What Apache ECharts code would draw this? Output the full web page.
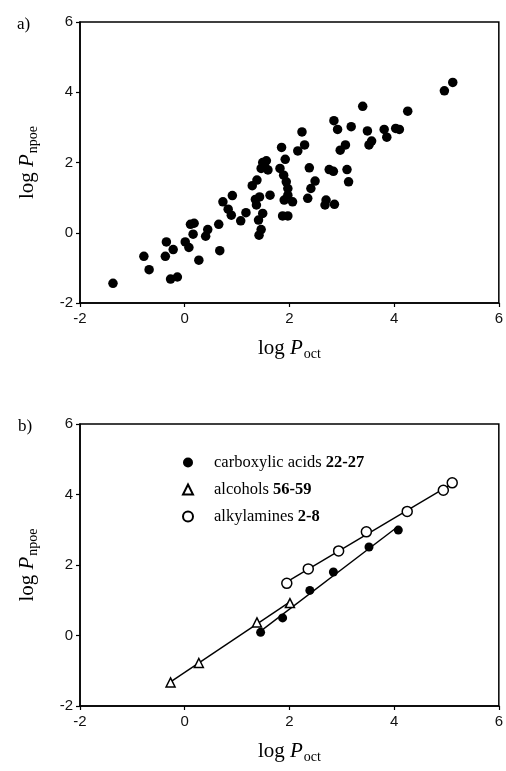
<!DOCTYPE html>
<html>
<head>
<meta charset="utf-8">
<script src="https://cdn.jsdelivr.net/npm/echarts@6/dist/echarts.min.js"></script>
<style>
html,body{margin:0;padding:0;background:#fff;}
#chart{width:506px;height:771px;}
</style>
</head>
<body>
<div id="chart"></div>
<script>
// ---- data ----
// Panel a): log P_oct vs log P_npoe, all compounds
const allLogPoct = [-1.37,-0.78,-0.68,-0.35,-0.37,-0.22,-0.27,-0.14,0.01,0.08,0.11,0.18,0.16,0.27,0.40,0.44,0.65,0.67,0.73,0.91,0.83,0.89,1.07,1.17,1.29,1.38,1.35,1.43,1.37,1.49,1.41,1.46,1.42,1.49,1.56,1.46,1.59,1.53,1.63,1.85,1.92,1.82,1.89,1.94,1.97,1.97,1.90,2.06,1.87,1.97,2.24,2.16,2.29,2.38,2.35,2.49,2.41,2.70,2.68,2.86,2.76,2.84,3.10,3.13,3.07,2.97,2.85,2.92,3.18,3.40,3.49,3.57,3.52,3.81,3.86,4.03,4.10,4.26,4.96,5.12];
const allLogPnpoe = [-1.44,-0.67,-1.05,-0.26,-0.67,-0.48,-1.32,-1.26,-0.26,-0.42,0.24,0.27,-0.04,-0.78,-0.10,0.09,0.24,-0.51,0.88,1.06,0.67,0.50,0.34,0.57,1.34,1.50,0.95,1.02,0.79,0.55,0.36,0.09,-0.07,2.00,2.05,1.83,1.79,1.88,1.07,2.43,2.09,1.83,1.64,1.45,1.26,1.07,0.93,0.88,0.48,0.48,2.87,2.33,2.50,1.85,0.98,1.47,1.26,0.93,0.79,0.81,1.80,1.75,1.80,1.45,2.50,2.35,3.19,2.94,3.02,3.60,2.90,2.61,2.50,2.94,2.72,2.97,2.94,3.46,4.04,4.28];

// Panel b): homologous series
const seriesNames = ['carboxylic acids', 'alcohols', 'alkylamines'];
const seriesNumbers = ['22-27', '56-59', '2-8'];
const acidsX = [1.45, 1.87, 2.39, 2.84, 3.52, 4.08];
const acidsY = [0.09, 0.50, 1.28, 1.80, 2.51, 2.99];
const alcoholsX = [-0.27, 0.27, 1.38, 2.01];
const alcoholsY = [-1.33, -0.78, 0.37, 0.92];
const aminesX = [1.95, 2.36, 2.94, 3.47, 4.25, 4.94, 5.11];
const aminesY = [1.48, 1.89, 2.40, 2.94, 3.52, 4.12, 4.33];

const axisMin = -2, axisMax = 6, axisStep = 2;

// ---- helpers ----
const zip = (xs, ys) => xs.map((x, i) => [x, ys[i]]);
function fitLine(xs, ys) {
  const n = xs.length;
  const mx = xs.reduce((a, b) => a + b, 0) / n;
  const my = ys.reduce((a, b) => a + b, 0) / n;
  let sxy = 0, sxx = 0;
  for (let i = 0; i < n; i++) { sxy += (xs[i] - mx) * (ys[i] - my); sxx += (xs[i] - mx) ** 2; }
  const b = sxy / sxx, a = my - b * mx;
  const x0 = Math.min(...xs), x1 = Math.max(...xs);
  return [[x0, a + b * x0], [x1, a + b * x1]];
}

const serif = 'Liberation Serif';
const sans = 'Liberation Sans';
const nameRich = {
  l: { fontFamily: serif, fontSize: 21, color: '#000' },
  p: { fontFamily: serif, fontSize: 21, fontStyle: 'italic', color: '#000' },
  s: { fontFamily: serif, fontSize: 14, color: '#000', verticalAlign: 'bottom', padding: [12, 0, 0, 1] }
};

function xAxis(gi) {
  return {
    type: 'value', gridIndex: gi, min: axisMin, max: axisMax, interval: axisStep,
    axisLine: { show: true, onZero: false, lineStyle: { color: '#000', width: 1.5 } },
    axisTick: { show: true, length: 4, lineStyle: { color: '#000', width: 1.2 } },
    axisLabel: { color: '#111', fontSize: 15, fontFamily: sans, margin: 8 },
    splitLine: { show: false },
    name: '{l|log }{p|P}{s|oct}', nameLocation: 'middle', nameGap: 32,
    nameTextStyle: { rich: nameRich }
  };
}
function yAxis(gi) {
  return {
    type: 'value', gridIndex: gi, min: axisMin, max: axisMax, interval: axisStep,
    axisLine: { show: true, onZero: false, lineStyle: { color: '#000', width: 1.5 } },
    axisTick: { show: true, length: 4, lineStyle: { color: '#000', width: 1.2 } },
    axisLabel: { color: '#111', fontSize: 15, fontFamily: sans, margin: 7 },
    splitLine: { show: false },
    name: '{l|log }{p|P}{s|npoe}', nameLocation: 'middle', nameGap: 40, nameRotate: 90,
    nameTextStyle: { rich: nameRich }
  };
}

const emptyStyle = { color: '#fff', borderColor: '#000', borderWidth: 1.5, opacity: 1 };

const option = {
  backgroundColor: '#fff',
  animation: false,
  title: [
    { text: 'a)', left: 12, top: 11, textStyle: { fontFamily: serif, fontSize: 17, fontWeight: 'normal', color: '#000' } },
    { text: 'b)', left: 13, top: 413, textStyle: { fontFamily: serif, fontSize: 17, fontWeight: 'normal', color: '#000' } }
  ],
  grid: [
    { left: 80, right: 6, top: 22, height: 281, show: true, borderColor: '#000', borderWidth: 1.5, backgroundColor: 'transparent' },
    { left: 80, right: 6, top: 424, height: 282, show: true, borderColor: '#000', borderWidth: 1.5, backgroundColor: 'transparent' }
  ],
  xAxis: [xAxis(0), xAxis(1)],
  yAxis: [yAxis(0), yAxis(1)],
  legend: {
    orient: 'vertical', left: 182, top: 454, padding: 0,
    itemWidth: 10, itemHeight: 10, itemGap: 10,
    data: seriesNames,
    formatter: name => '{n|' + name + '}{b|' + seriesNumbers[seriesNames.indexOf(name)] + '}',
    textStyle: {
      color: '#000',
      rich: {
        n: { fontFamily: serif, fontSize: 16.5, color: '#000', padding: [0, 4, 0, 16], lineHeight: 16 },
        b: { fontFamily: serif, fontSize: 16.5, fontWeight: 'bold', color: '#000', lineHeight: 16 }
      }
    }
  },
  series: [
    { type: 'scatter', xAxisIndex: 0, yAxisIndex: 0, symbol: 'circle', symbolSize: 9.5,
      itemStyle: { color: '#000', opacity: 1 }, data: zip(allLogPoct, allLogPnpoe) },
    // fit lines (bottom panel)
    { type: 'line', xAxisIndex: 1, yAxisIndex: 1, symbol: 'none', z: 1, silent: true,
      lineStyle: { color: '#000', width: 1.4 }, data: fitLine(acidsX, acidsY) },
    { type: 'line', xAxisIndex: 1, yAxisIndex: 1, symbol: 'none', z: 1, silent: true,
      lineStyle: { color: '#000', width: 1.4 }, data: fitLine(alcoholsX, alcoholsY) },
    { type: 'line', xAxisIndex: 1, yAxisIndex: 1, symbol: 'none', z: 1, silent: true,
      lineStyle: { color: '#000', width: 1.4 }, data: fitLine(aminesX, aminesY) },
    { name: seriesNames[0], type: 'scatter', xAxisIndex: 1, yAxisIndex: 1, z: 3, symbol: 'circle', symbolSize: 9,
      itemStyle: { color: '#000', opacity: 1 }, data: zip(acidsX, acidsY) },
    { name: seriesNames[1], type: 'scatter', xAxisIndex: 1, yAxisIndex: 1, z: 3, symbol: 'triangle', symbolSize: 9,
      itemStyle: emptyStyle, data: zip(alcoholsX, alcoholsY) },
    { name: seriesNames[2], type: 'scatter', xAxisIndex: 1, yAxisIndex: 1, z: 3, symbol: 'circle', symbolSize: 10,
      itemStyle: emptyStyle, data: zip(aminesX, aminesY) }
  ]
};

const chart = echarts.init(document.getElementById('chart'), null, { renderer: 'canvas' });
chart.setOption(option);
</script>
</body>
</html>
